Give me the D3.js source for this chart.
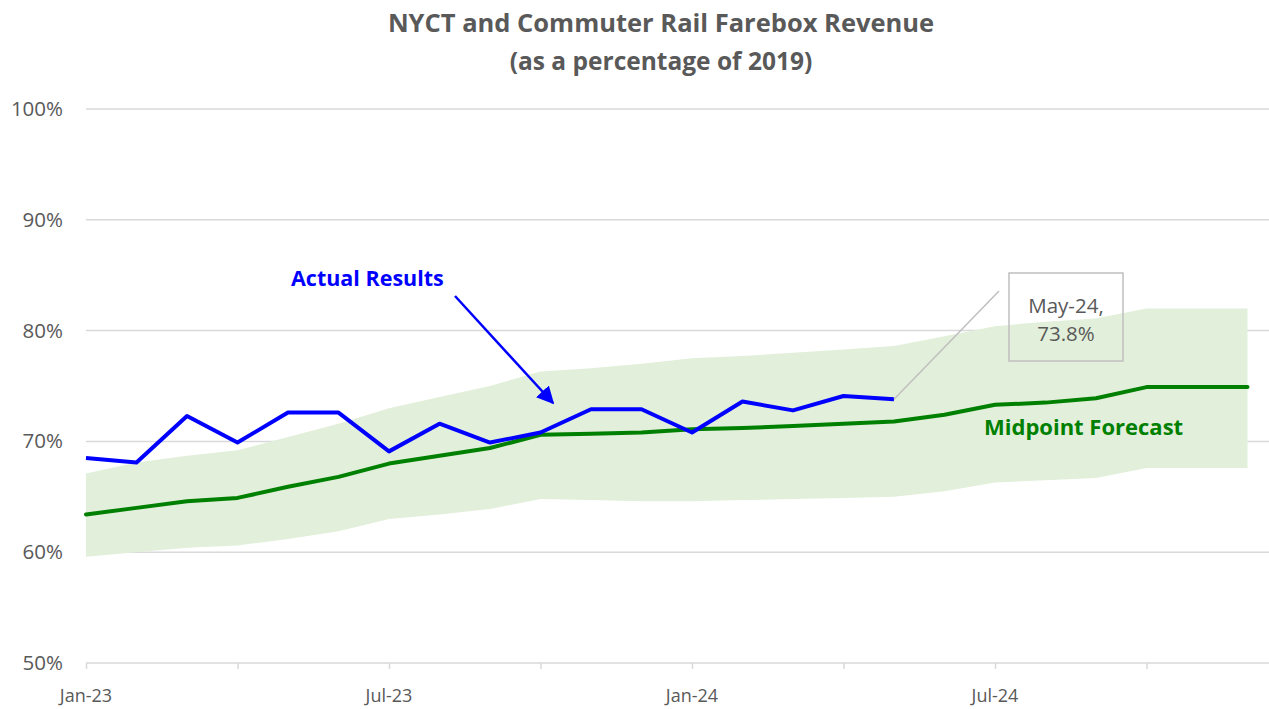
<!DOCTYPE html>
<html>
<head>
<meta charset="utf-8">
<script src="https://cdn.jsdelivr.net/npm/d3@7"></script>
<style>
  body { margin: 0; background: #fff; }
  svg text { font-family: "Open Sans", "Liberation Sans", sans-serif; }
</style>
</head>
<body>
<svg id="chart" width="1269" height="709"></svg>
<script>
const months = ["Jan-23","Feb-23","Mar-23","Apr-23","May-23","Jun-23","Jul-23","Aug-23","Sep-23","Oct-23","Nov-23","Dec-23",
                "Jan-24","Feb-24","Mar-24","Apr-24","May-24","Jun-24","Jul-24","Aug-24","Sep-24","Oct-24","Nov-24","Dec-24"];
// actual results through May-24
const actual = [68.5, 68.1, 72.3, 69.9, 72.6, 72.6, 69.1, 71.6, 69.9, 70.8, 72.9, 72.9,
                70.8, 73.6, 72.8, 74.1, 73.8];
const midpoint = [63.4, 64.0, 64.6, 64.9, 65.9, 66.8, 68.0, 68.7, 69.4, 70.6, 70.7, 70.8,
                  71.1, 71.2, 71.4, 71.6, 71.8, 72.4, 73.3, 73.5, 73.9, 74.9, 74.9, 74.9];
const bandHigh = [67.1, 68.1, 68.7, 69.2, 70.4, 71.6, 73.0, 74.0, 75.0, 76.3, 76.6, 77.0,
                  77.5, 77.7, 78.0, 78.3, 78.6, 79.5, 80.4, 80.8, 81.1, 82.0, 82.0, 82.0];
const bandLow = [59.6, 60.0, 60.4, 60.6, 61.2, 61.9, 63.0, 63.4, 63.9, 64.8, 64.7, 64.6,
                 64.6, 64.7, 64.8, 64.9, 65.0, 65.5, 66.3, 66.5, 66.7, 67.6, 67.6, 67.6];
const yTicks = [50, 60, 70, 80, 90, 100];
const xTicks = ["Jan-23","Apr-23","Jul-23","Oct-23","Jan-24","Apr-24","Jul-24","Oct-24"];
const xLabels = ["Jan-23","Jul-23","Jan-24","Jul-24"];

const svg = d3.select("#chart");
const plotLeft = 86, plotRight = 1269, plotTop = 109, plotBottom = 663;
const gray = "#595959";

const x = d3.scalePoint().domain(months).range([plotLeft, plotLeft + 23 * 50.5]);
const y = d3.scaleLinear().domain([50, 100]).range([plotBottom, plotTop]);

// title
svg.append("text").attr("x", 661).attr("y", 32).attr("text-anchor", "middle")
    .attr("font-size", 25.5).attr("font-weight", "bold").attr("fill", gray)
    .text("NYCT and Commuter Rail Farebox Revenue");
svg.append("text").attr("x", 661).attr("y", 70).attr("text-anchor", "middle")
    .attr("font-size", 24.5).attr("font-weight", "bold").attr("fill", gray)
    .text("(as a percentage of 2019)");

// gridlines
svg.append("g").selectAll("line").data(yTicks.filter(d => d > 50)).enter().append("line")
    .attr("x1", plotLeft).attr("x2", plotRight)
    .attr("y1", d => y(d)).attr("y2", d => y(d))
    .attr("stroke", "#d9d9d9").attr("stroke-width", 1.5);

svg.append("g").selectAll("text").data(yTicks).enter().append("text")
    .attr("x", 63).attr("y", d => y(d) + 7).attr("text-anchor", "end")
    .attr("font-size", 20.5).attr("fill", gray)
    .text(d => d + "%");

// forecast band
const band = d3.area()
    .x((d, i) => x(months[i]))
    .y0((d, i) => y(bandLow[i]))
    .y1(d => y(d));
svg.append("path").datum(bandHigh).attr("d", band).attr("fill", "#e2efda");

// x axis
const xAxis = svg.append("g").attr("transform", `translate(0,${plotBottom})`)
    .call(d3.axisBottom(x).tickValues(xTicks).tickSize(6).tickFormat(""));
xAxis.select(".domain").remove();
xAxis.selectAll(".tick line").attr("stroke", "#d9d9d9").attr("stroke-width", 1.5);
svg.append("line").attr("x1", plotLeft).attr("x2", plotRight).attr("y1", plotBottom).attr("y2", plotBottom)
    .attr("stroke", "#d9d9d9").attr("stroke-width", 1.5);
svg.append("g").selectAll("text").data(xLabels).enter().append("text")
    .attr("x", d => x(d)).attr("y", 702).attr("text-anchor", "middle")
    .attr("font-size", 18).attr("fill", gray).text(d => d);

// lines
const line = d3.line().x((d, i) => x(months[i])).y(d => y(d));
svg.append("path").datum(midpoint).attr("d", line)
    .attr("fill", "none").attr("stroke", "#008000").attr("stroke-width", 4)
    .attr("stroke-linejoin", "round").attr("stroke-linecap", "round");
svg.append("path").datum(actual).attr("d", line)
    .attr("fill", "none").attr("stroke", "#0000ff").attr("stroke-width", 4)
    .attr("stroke-linejoin", "round");

// data label for last actual point
const lastI = actual.length - 1;
const px = x(months[lastI]), py = y(actual[lastI]);
svg.append("line").attr("x1", px).attr("y1", py).attr("x2", 999).attr("y2", 291)
    .attr("stroke", "#bfbfbf").attr("stroke-width", 1.5);
svg.append("rect").attr("x", 1009).attr("y", 273).attr("width", 114).attr("height", 88)
    .attr("fill", "none").attr("stroke", "#bfbfbf").attr("stroke-width", 1.5);
svg.append("text").attr("x", 1066).attr("y", 313).attr("text-anchor", "middle")
    .attr("font-size", 20.5).attr("fill", gray).text(months[lastI] + ",");
svg.append("text").attr("x", 1066).attr("y", 341).attr("text-anchor", "middle")
    .attr("font-size", 20.5).attr("fill", gray).text(actual[lastI].toFixed(1) + "%");

// annotations
svg.append("defs").append("marker").attr("id", "arrow")
    .attr("viewBox", "0 0 10 10").attr("refX", 9).attr("refY", 5)
    .attr("markerWidth", 7).attr("markerHeight", 7).attr("orient", "auto")
    .append("path").attr("d", "M0,0 L10,5 L0,10 z").attr("fill", "#0000ff");
svg.append("line").attr("x1", 455).attr("y1", 296).attr("x2", 553).attr("y2", 403)
    .attr("stroke", "#0000ff").attr("stroke-width", 2.5).attr("marker-end", "url(#arrow)");
svg.append("text").attr("x", 291).attr("y", 286).attr("font-size", 21.5).attr("font-weight", "bold")
    .attr("fill", "#0000ff").text("Actual Results");
svg.append("text").attr("x", 984).attr("y", 435).attr("font-size", 22).attr("font-weight", "bold")
    .attr("fill", "#008000").text("Midpoint Forecast");
</script>
</body>
</html>
